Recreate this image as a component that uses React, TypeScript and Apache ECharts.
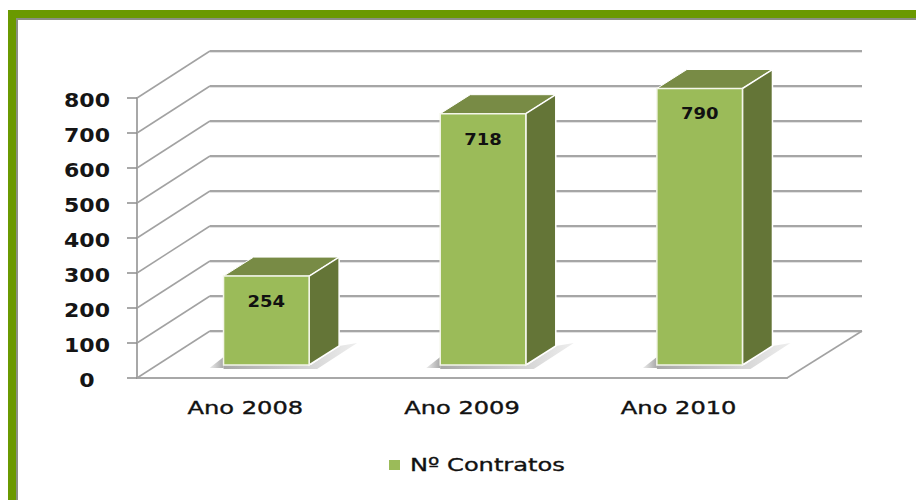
import React, { useEffect, useRef } from "react";
import * as echarts from "echarts";

const years = ["Ano 2008", "Ano 2009", "Ano 2010"];
const contracts = [254, 718, 790];
const yTicks = [0, 100, 200, 300, 400, 500, 600, 700, 800];
const legendName = "Nº Contratos";

const WALL_DX = 73;
const WALL_DY = -47;
const RIGHT_DX = 75;
const BAR_SHIFT_X = 21;
const BAR_SHIFT_Y = -13;
const DEPTH_DX = 30;
const DEPTH_DY = -19;
const FONT = "'DejaVu Sans', sans-serif";

function fade(from: string, to: string) {
  return new echarts.graphic.LinearGradient(0, 0, 1, 0, [
    { offset: 0, color: from },
    { offset: 1, color: to },
  ]);
}

function renderFrame(params: any, api: any) {
  const cs = params.coordSys;
  const v = api.value(1);
  const y = api.coord([0, v])[1];
  const x0 = cs.x;
  const x1 = cs.x + cs.width;
  const children: any[] = [
    { type: "line", shape: { x1: x0, y1: y, x2: x0 + WALL_DX, y2: y + WALL_DY }, style: { stroke: "#a2a2a2", lineWidth: 1.5 } },
    { type: "line", shape: { x1: x0 + WALL_DX, y1: y + WALL_DY + 1.5, x2: x1 + RIGHT_DX, y2: y + WALL_DY + 1.5 }, style: { stroke: "#e2e2e2", lineWidth: 1 } },
    { type: "line", shape: { x1: x0 + WALL_DX, y1: y + WALL_DY, x2: x1 + RIGHT_DX, y2: y + WALL_DY }, style: { stroke: "#a6a6a6", lineWidth: 2 } },
    {
      type: "text",
      x: x0 - 50,
      y: y + 3,
      scaleX: 1.16,
      style: { text: String(v), fill: "#151515", font: `bold 19px ${FONT}`, align: "center", verticalAlign: "middle" },
    },
  ];
  if (v === 0) {
    children.push({ type: "line", shape: { x1, y1: y, x2: x1 + RIGHT_DX, y2: y + WALL_DY }, style: { stroke: "#a2a2a2", lineWidth: 1.5 } });
  }
  return { type: "group", children };
}

function renderBar(params: any, api: any) {
  const cat = api.value(0);
  const val = api.value(1);
  const [cx, base] = api.coord([cat, 0]);
  const top = api.coord([cat, val])[1];
  const band = api.size([1, 0])[0];
  const w = band * 0.395;
  const l = cx + BAR_SHIFT_X - w / 2;
  const r = l + w;
  const b = base + BAR_SHIFT_Y;
  const t = top + BAR_SHIFT_Y;
  return {
    type: "group",
    children: [
      {
        type: "polygon",
        shape: { points: [[l - 14, b + 3], [l, b - 8], [l, b + 3]] },
        style: { fill: fade("#ececec", "#a8a8a8") },
      },
      {
        type: "polygon",
        shape: { points: [[l, b], [r + 2, b], [r + DEPTH_DX, b + DEPTH_DY], [r + DEPTH_DX + 18, b + DEPTH_DY - 3], [r + 8, b + 4], [l, b + 4]] },
        style: { fill: fade("#a8a8a8", "#eeeeee") },
      },
      {
        type: "polygon",
        shape: { points: [[l, t], [l + DEPTH_DX, t + DEPTH_DY], [r + DEPTH_DX, t + DEPTH_DY], [r, t]] },
        style: { fill: "#788b45", stroke: "#ffffff", lineWidth: 1 },
      },
      {
        type: "polygon",
        shape: { points: [[r, t], [r + DEPTH_DX, t + DEPTH_DY], [r + DEPTH_DX, b + DEPTH_DY], [r, b]] },
        style: { fill: "#647537", stroke: "#ffffff", lineWidth: 1.5 },
      },
      {
        type: "rect",
        shape: { x: l, y: t, width: w, height: b - t },
        style: { fill: "#9bbb59", stroke: "#f4f6ea", lineWidth: 1.5 },
      },
      {
        type: "text",
        x: (l + r) / 2,
        y: t + 26,
        scaleX: 1.2,
        style: { text: String(val), fill: "#111111", font: `bold 15px ${FONT}`, align: "center", verticalAlign: "middle" },
      },
      {
        type: "text",
        x: cx,
        y: base + 30,
        scaleX: 1.42,
        style: { text: years[cat], fill: "#111111", stroke: "#111111", lineWidth: 0.35, font: `17px ${FONT}`, align: "center", verticalAlign: "middle" },
      },
    ],
  };
}

export default function App() {
  const ref = useRef<HTMLDivElement>(null);
  useEffect(() => {
    const chart = echarts.init(ref.current!, undefined, { renderer: "svg" });
    chart.setOption({
      animation: false,
      backgroundColor: "#ffffff",
      grid: { left: 137, top: 98, width: 650, height: 280, containLabel: false },
      xAxis: {
        type: "category",
        data: years,
        axisLine: { lineStyle: { color: "#a8a8a8", width: 2 } },
        axisTick: { length: 8, lineStyle: { color: "#8c8c8c", width: 1.5 } },
        axisLabel: { show: false },
        splitLine: { show: false },
      },
      yAxis: {
        type: "value",
        min: 0,
        max: 800,
        interval: 100,
        axisLine: { show: true, lineStyle: { color: "#a8a8a8", width: 2 } },
        axisTick: { show: true, length: 10, lineStyle: { color: "#8c8c8c", width: 1.5 } },
        axisLabel: { show: false },
        splitLine: { show: false },
      },
      graphic: [
        { type: "rect", shape: { x: 8, y: 10, width: 908, height: 490 }, style: { fill: "#6a9900" }, silent: true },
        { type: "rect", shape: { x: 16, y: 18, width: 900, height: 482 }, style: { fill: "#8a8f84" }, silent: true },
        { type: "rect", shape: { x: 18, y: 20, width: 898, height: 480 }, style: { fill: "#ffffff" }, silent: true },
        { type: "rect", z: 5, shape: { x: 389, y: 460, width: 11, height: 10 }, style: { fill: "#9bbb59" }, silent: true },
        {
          type: "text",
          z: 5,
          x: 410,
          y: 465,
          scaleX: 1.34,
          style: { text: legendName, fill: "#111111", stroke: "#111111", lineWidth: 0.35, font: `18px ${FONT}`, align: "left", verticalAlign: "middle" },
          silent: true,
        },
      ],
      series: [
        {
          type: "custom",
          name: "frame",
          z: 2,
          silent: true,
          clip: false,
          renderItem: renderFrame,
          data: yTicks.map((t) => [0, t]),
        },
        {
          type: "custom",
          name: legendName,
          z: 3,
          silent: true,
          clip: false,
          renderItem: renderBar,
          data: contracts.map((c, i) => [i, c]),
        },
      ],
    });
    return () => chart.dispose();
  }, []);
  return <div ref={ref} style={{ position: "absolute", left: 0, top: 0, width: 916, height: 500 }} />;
}
